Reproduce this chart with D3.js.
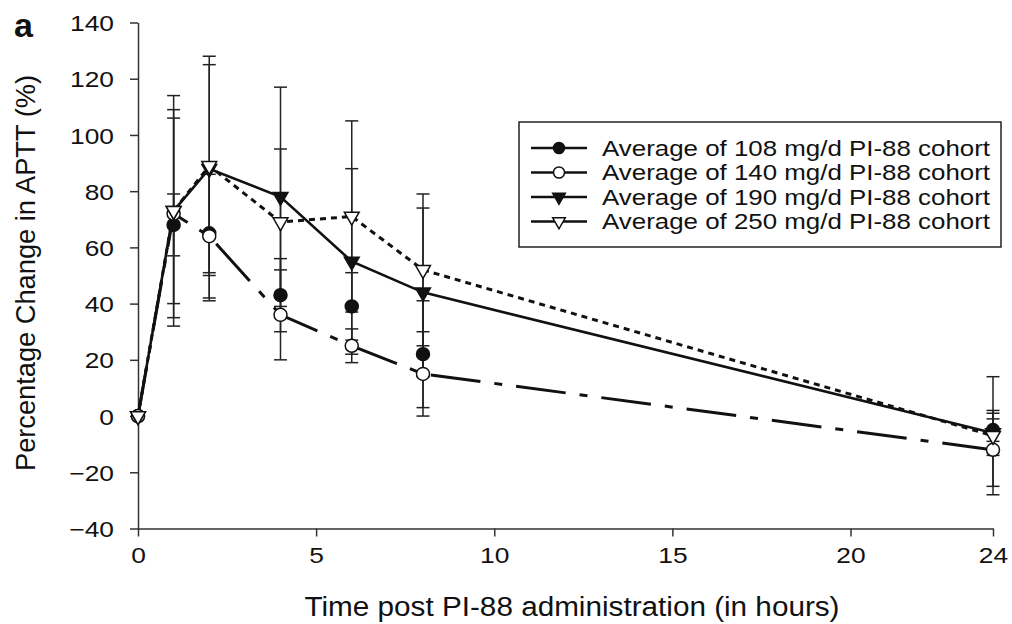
<!DOCTYPE html>
<html lang="en">
<head>
<meta charset="UTF-8">
<title>APTT change after PI-88</title>
<script src="https://cdn.jsdelivr.net/npm/d3@7"></script>
<style>
    body { margin: 0; background: #fff; }
    svg { font-family: "Liberation Sans", Arial, Helvetica, sans-serif; }
    .axis path, .axis line { stroke: #333; stroke-width: 1.5; }
    .axis text { font-size: 22.5px; fill: #111; }
</style>
</head>
<body>
<svg id="chart" width="1012" height="624"></svg>
<script>
    // time points (hours)
    const times = [0, 1, 2, 4, 6, 8, 24];

    // mean % change in APTT per cohort, with error bar half-lengths
    const mean108 = [0, 68, 65, 43, 39, 22, -5];
    const err108  = [0, 11, 24, 13, 12, 19, 4];
    const mean140 = [0, 72, 64, 36, 25, 15, -12];
    const err140  = [0, 37, 22, 16, 6, 15, 13];
    const mean190 = [0, 73, 88, 78, 55, 44, -6];
    const err190  = [0, 41, 37, 39, 33, 30, 8];
    const mean250 = [0, 73, 89, 69, 71, 52, -7];
    const err250  = [0, 33, 39, 26, 34, 27, 21];

    const cohortNames = [
        "Average of 108 mg/d PI-88 cohort",
        "Average of 140 mg/d PI-88 cohort",
        "Average of 190 mg/d PI-88 cohort",
        "Average of 250 mg/d PI-88 cohort"
    ];

    const xTicks = [0, 5, 10, 15, 20, 24];
    const yTicks = [-40, -20, 0, 20, 40, 60, 80, 100, 120, 140];

    const svg = d3.select("#chart");

    const x = d3.scaleLinear().domain([0, 24]).range([138, 993]);
    const y = d3.scaleLinear().domain([-40, 140]).range([528.5, 22.5]);

    // series styling (marker type, line dash)
    const series = [
        {mean: mean108, err: err108, marker: "fillCircle", dash: null, line: false},
        {mean: mean140, err: err140, marker: "openCircle", dash: "50,14,8,14", line: true},
        {mean: mean190, err: err190, marker: "fillTri", dash: null, line: true},
        {mean: mean250, err: err250, marker: "openTri", dash: "6,5", line: true}
    ];

    // the original lettering is a bit wider than Liberation Sans
    function widen(sel, k) {
        sel.each(function () {
            let w = this.getComputedTextLength();
            d3.select(this).attr("textLength", w * k).attr("lengthAdjust", "spacingAndGlyphs");
        });
    }

    // axes
    svg.append("g")
        .attr("class", "axis")
        .attr("transform", "translate(" + x(0) + ",0)")
        .call(d3.axisLeft(y).tickValues(yTicks).tickSize(8).tickSizeOuter(0).tickPadding(16))
        .call(g => g.selectAll("text").attr("dy", "0.36em"))
        .call(g => widen(g.selectAll("text"), 1.17));

    svg.append("g")
        .attr("class", "axis")
        .attr("transform", "translate(0," + y(-40) + ")")
        .call(d3.axisBottom(x).tickValues(xTicks).tickSize(8).tickSizeOuter(0).tickPadding(11))
        .call(g => widen(g.selectAll("text"), 1.17));

    // error bars
    const capW = 6.5;
    series.forEach(s => {
        let g = svg.append("g").attr("stroke", "#222").attr("stroke-width", 1.5);
        times.forEach((t, i) => {
            if (s.err[i] === 0) return;
            let hi = y(s.mean[i] + s.err[i]);
            let lo = y(s.mean[i] - s.err[i]);
            g.append("line").attr("x1", x(t)).attr("x2", x(t)).attr("y1", hi).attr("y2", lo);
            g.append("line").attr("x1", x(t) - capW).attr("x2", x(t) + capW).attr("y1", hi).attr("y2", hi);
            g.append("line").attr("x1", x(t) - capW).attr("x2", x(t) + capW).attr("y1", lo).attr("y2", lo);
        });
    });

    // lines
    const line = d3.line().x((d, i) => x(times[i])).y(d => y(d));
    series.forEach(s => {
        if (!s.line) return;
        svg.append("path")
            .datum(s.mean)
            .attr("d", line)
            .attr("fill", "none")
            .attr("stroke", "#111")
            .attr("stroke-width", s.dash ? 3 : 2.6)
            .attr("stroke-dasharray", s.dash);
    });

    function drawMarker(g, type, cx, cy, scale) {
        if (type === "fillCircle" || type === "openCircle") {
            g.append("circle")
                .attr("cx", cx).attr("cy", cy).attr("r", 6.5 * scale)
                .attr("fill", type === "fillCircle" ? "#111" : "#fff")
                .attr("stroke", "#111").attr("stroke-width", 1.5);
        } else {
            g.append("path")
                .attr("d", d3.symbol(d3.symbolTriangle, 95 * scale * scale)())
                .attr("transform", "translate(" + cx + "," + cy + ") rotate(180)")
                .attr("fill", type === "fillTri" ? "#111" : "#fff")
                .attr("stroke", "#111").attr("stroke-width", 1.5);
        }
    }

    // markers
    series.forEach(s => {
        let g = svg.append("g");
        s.mean.forEach((v, i) => drawMarker(g, s.marker, x(times[i]), y(v), 1));
    });

    // legend
    const legend = svg.append("g");
    legend.append("rect")
        .attr("x", 519).attr("y", 122).attr("width", 482).attr("height", 125)
        .attr("fill", "#fff").attr("stroke", "#222").attr("stroke-width", 1.5);
    series.forEach((s, i) => {
        let ry = 148 + i * 24.5;
        legend.append("line")
            .attr("x1", 531).attr("x2", 587).attr("y1", ry).attr("y2", ry)
            .attr("stroke", "#111").attr("stroke-width", 2.5);
        drawMarker(legend, s.marker, 559, ry, 0.85);
        legend.append("text")
            .attr("x", 602).attr("y", ry)
            .attr("dy", "0.36em")
            .attr("font-size", 22)
            .attr("fill", "#111")
            .attr("textLength", 388)
            .attr("lengthAdjust", "spacingAndGlyphs")
            .text(cohortNames[i]);
    });

    // axis titles
    svg.append("text")
        .attr("transform", "translate(35,273) rotate(-90)")
        .attr("text-anchor", "middle")
        .attr("font-size", 27)
        .attr("fill", "#111")
        .attr("textLength", 396)
        .attr("lengthAdjust", "spacingAndGlyphs")
        .text("Percentage Change in APTT (%)");

    svg.append("text")
        .attr("x", 572).attr("y", 616)
        .attr("text-anchor", "middle")
        .attr("font-size", 27)
        .attr("fill", "#111")
        .attr("textLength", 535)
        .attr("lengthAdjust", "spacingAndGlyphs")
        .text("Time post PI-88 administration (in hours)");

    svg.append("text")
        .attr("x", 14).attr("y", 37)
        .attr("font-size", 34)
        .attr("font-weight", "bold")
        .attr("fill", "#111")
        .text("a");
</script>
</body>
</html>
